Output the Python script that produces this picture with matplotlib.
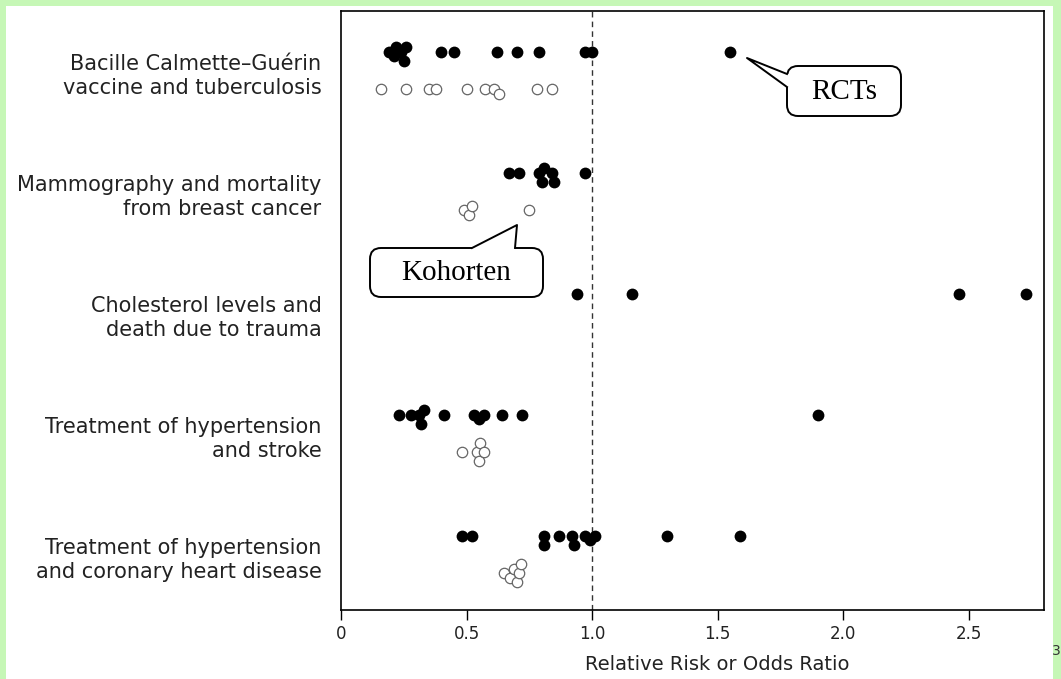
import matplotlib
matplotlib.use("Agg")
import matplotlib.pyplot as plt
import matplotlib.transforms as mtransforms
from matplotlib.patches import FancyBboxPatch, Polygon, Rectangle
from matplotlib.lines import Line2D
import numpy as np

# Relative risk / odds ratio per study
categories = [
    "Bacille Calmette\u2013Gu\u00e9rin\nvaccine and tuberculosis",
    "Mammography and mortality\nfrom breast cancer",
    "Cholesterol levels and\ndeath due to trauma",
    "Treatment of hypertension\nand stroke",
    "Treatment of hypertension\nand coronary heart disease",
]
bcg_rct = [0.19, 0.21, 0.22, 0.24, 0.25, 0.26, 0.40, 0.45, 0.62, 0.70, 0.79, 0.97, 1.00, 1.55]
bcg_cohort = [0.16, 0.26, 0.35, 0.38, 0.50, 0.575, 0.61, 0.63, 0.78, 0.84]
mammo_rct = [0.67, 0.71, 0.79, 0.80, 0.81, 0.84, 0.85, 0.97]
mammo_cohort = [0.49, 0.51, 0.52, 0.75]
chol_rct = [0.94, 1.16, 2.46, 2.73]
chol_cohort = []
stroke_rct = [0.23, 0.28, 0.31, 0.32, 0.33, 0.41, 0.53, 0.55, 0.57, 0.64, 0.72, 1.90]
stroke_cohort = [0.48, 0.54, 0.55, 0.555, 0.57]
chd_rct = [0.48, 0.52, 0.81, 0.81, 0.87, 0.92, 0.93, 0.97, 0.99, 1.01, 1.30, 1.59]
chd_cohort = [0.65, 0.675, 0.69, 0.70, 0.71, 0.715]

rct_series = [bcg_rct, mammo_rct, chol_rct, stroke_rct, chd_rct]
cohort_series = [bcg_cohort, mammo_cohort, chol_cohort, stroke_cohort, chd_cohort]

xticks = [0, 0.5, 1.0, 1.5, 2.0, 2.5]
xtick_labels = ["0", "0.5", "1.0", "1.5", "2.0", "2.5"]

GREEN = "#c6f7b6"
W, H = 1061, 679

fig = plt.figure(figsize=(W / 100, H / 100), dpi=100, facecolor=GREEN)
# pixel coordinates measured from the top-left corner (for the frame and callouts)
px = mtransforms.Affine2D().scale(1 / W, -1 / H).translate(0, 1) + fig.transFigure

fig.add_artist(Rectangle((6, 6), 1047, 680, transform=px, facecolor="white",
                         edgecolor="none", zorder=-5))

ax = fig.add_axes([341 / W, 1 - 610 / H, (1044 - 341) / W, (610 - 11) / H])
ax.set_xlim(0, 2.80)
ax.set_ylim(4.445, -0.506)

# pixels per data unit, used to dodge overlapping dots
PX_X = 703 / 2.80
PX_Y = 599 / (4.445 + 0.506)


def swarm(xs, base, min_px=6.5, step_px=4.5):
    placed = []
    ys = []
    for x in xs:
        for k in [0, 1, -1, 2, -2, 3, -3, 4, -4]:
            y = base + k * step_px / PX_Y
            if all(np.hypot((x - a) * PX_X, (y - b) * PX_Y) >= min_px for a, b in placed):
                break
        placed.append((x, y))
        ys.append(y)
    return ys


for i, (rct, coh) in enumerate(zip(rct_series, cohort_series)):
    if rct:
        ax.plot(rct, swarm(rct, i - 0.17), "o", color="black", markersize=8.5,
                markeredgewidth=0, zorder=3)
    if coh:
        ax.plot(coh, swarm(coh, i + 0.14), "o", markerfacecolor="white",
                markeredgecolor="#666666", markeredgewidth=0.9, markersize=7.5,
                zorder=3, linestyle="none")

ax.axvline(1.0, color="#333333", linewidth=1, linestyle=(0, (4, 3)), zorder=1)

ax.set_xticks(xticks)
ax.set_xticklabels(xtick_labels, fontsize=12, color="#222222")
ax.tick_params(axis="x", direction="out", length=7, width=1, pad=4)
ax.set_yticks(range(len(categories)))
ax.set_yticklabels(categories, fontsize=15, color="#222222")
ax.tick_params(axis="y", length=0, pad=14)
plt.setp(ax.get_yticklabels(), linespacing=1.25)

ax.set_xlabel("Relative Risk or Odds Ratio", fontsize=14, color="#222222")
ax.xaxis.set_label_coords(1.5 / 2.80, -0.075)

for s in ax.spines.values():
    s.set_linewidth(1.2)
    s.set_color("black")


def callout(box, pointer, inward, text):
    x0, y0, x1, y1 = box
    fig.add_artist(FancyBboxPatch((x0, y0), x1 - x0, y1 - y0,
                                  boxstyle="round,pad=0,rounding_size=11",
                                  transform=px, facecolor="white", edgecolor="black",
                                  linewidth=1.4, zorder=5))
    a, tip, b = pointer
    cover = [a, tip, b, (b[0] + inward[0], b[1] + inward[1]),
             (a[0] + inward[0], a[1] + inward[1])]
    fig.add_artist(Polygon(cover, closed=True, transform=px, facecolor="white",
                           edgecolor="none", zorder=6))
    fig.add_artist(Line2D([a[0], tip[0], b[0]], [a[1], tip[1], b[1]], transform=px,
                          color="black", linewidth=1.4, zorder=7))
    fig.text((x0 + x1) / 2, (y0 + y1) / 2 + 1, text, transform=px, ha="center",
             va="center", family="Liberation Serif", fontsize=21, zorder=8)


callout((787, 66, 901, 116), [(787, 74), (747, 58), (787, 87)], (3, 0), "RCTs")
callout((370, 248, 543, 297), [(472, 248), (517, 225), (515, 248)], (0, 3), "Kohorten")

fig.text(1052, 651, "3", transform=px, ha="left", va="center", fontsize=10, color="#333333")

fig.savefig("out.png", dpi=100, facecolor=GREEN)
